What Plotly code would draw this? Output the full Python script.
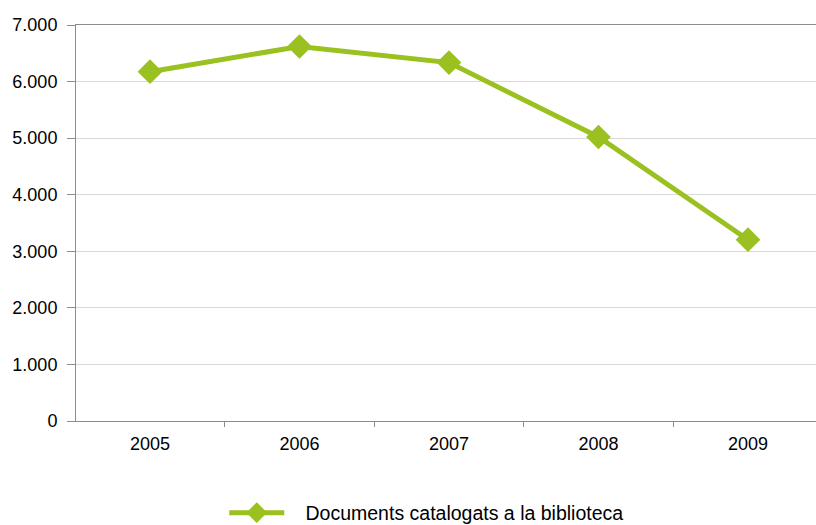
import plotly.graph_objects as go

years = ["2005", "2006", "2007", "2008", "2009"]
documents = [6175, 6620, 6335, 5020, 3205]
series_name = "Documents catalogats a la biblioteca"
y_ticks = [0, 1000, 2000, 3000, 4000, 5000, 6000, 7000]

green = "#9ac11f"
axis_gray = "#8c8c8c"

fig = go.Figure()
fig.add_trace(go.Scatter(
    x=years,
    y=documents,
    mode="lines+markers",
    # a few non-breaking spaces to widen the gap after the legend symbol
    name="\u00a0\u00a0\u00a0" + series_name,
    line=dict(color=green, width=5),
    marker=dict(color=green, size=19, symbol="diamond"),
))

fig.update_layout(
    width=816,
    height=525,
    # legend sits partly off the bottom edge, so keep the margins fixed
    margin=dict(l=76, r=0, t=25, b=104, autoexpand=False),
    paper_bgcolor="white",
    plot_bgcolor="white",
    separators=",.",
    font=dict(family="Liberation Sans, Arial, sans-serif", size=18, color="black"),
    showlegend=True,
    legend=dict(
        orientation="h",
        x=0.474,
        xanchor="center",
        y=-0.183,
        yanchor="top",
        itemwidth=55,
        font=dict(size=19.5),
    ),
)

fig.update_xaxes(
    type="category",
    range=[-0.495, 4.455],
    showline=True,
    linecolor=axis_gray,
    linewidth=1,
    mirror=True,
    showgrid=False,
    ticks="outside",
    tickson="boundaries",
    ticklen=5,
    tickcolor=axis_gray,
    ticklabelstandoff=6,
)

fig.update_yaxes(
    range=[0, 7000],
    tickvals=y_ticks,
    tickformat=",d",
    showline=True,
    linecolor=axis_gray,
    linewidth=1,
    showgrid=True,
    gridcolor="#d9d9d9",
    gridwidth=1,
    zeroline=False,
    ticks="outside",
    ticklen=8,
    tickcolor=axis_gray,
    ticklabelstandoff=6,
)

# drop the default page margin so the 816x525 figure fills the window exactly
page_css = (
    "document.documentElement.style.overflow='hidden';"
    "document.body.style.margin='0';"
    "document.body.style.overflow='hidden';"
)
fig.write_html("out.html", config={"displayModeBar": False}, post_script=page_css)
